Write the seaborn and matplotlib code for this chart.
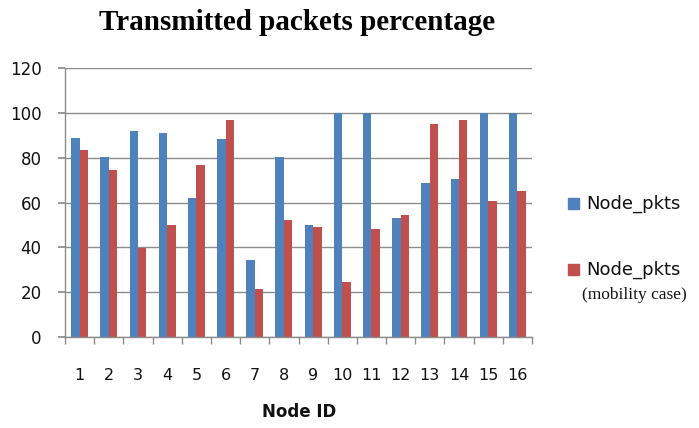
import numpy as np
import pandas as pd
import matplotlib
matplotlib.use("Agg")
import matplotlib.pyplot as plt
import seaborn as sns

node_ids = [str(i) for i in range(1, 17)]
node_pkts = [88.7, 80.1, 92.1, 90.8, 62.1, 88.4, 34.4, 80.1,
             49.9, 100, 100, 53.1, 68.6, 70.4, 100, 100]
node_pkts_mobility = [83.2, 74.7, 39.7, 49.9, 76.9, 96.9, 21.3, 52.1,
                      49.0, 24.4, 48.4, 54.6, 94.9, 96.9, 60.6, 65.3]
series_names = ["Node_pkts", "Node_pkts mobility"]

df = pd.DataFrame({
    "node": node_ids * 2,
    "value": node_pkts + node_pkts_mobility,
    "series": [series_names[0]] * 16 + [series_names[1]] * 16,
})

sns.set_theme(style="white")
plt.rcParams["font.family"] = ["DejaVu Sans"]

fig = plt.figure(figsize=(6.99, 4.28), dpi=100)
ax = fig.add_axes([65 / 699, 1 - 337 / 428, (532 - 65) / 699, (337 - 68) / 428])

sns.barplot(data=df, x="node", y="value", hue="series", order=node_ids,
            palette=["#4F81BD", "#C0504D"], width=0.58, saturation=1,
            linewidth=0, gap=0, ax=ax, legend=False)

ax.set_ylim(0, 120)
ax.set_xlim(-0.5, 15.5)
ax.set_yticks(range(0, 121, 20))
ax.yaxis.grid(True, color="#8c8c8c", linewidth=1)
ax.set_axisbelow(True)
for s in ["top", "right"]:
    ax.spines[s].set_visible(False)
for s in ["left", "bottom"]:
    ax.spines[s].set_color("#8c8c8c")
    ax.spines[s].set_linewidth(1)

ax.set_xticks(range(16))
ax.set_xticklabels(node_ids)
ax.set_xticks(np.arange(-0.5, 16, 1), minor=True)
ax.tick_params(axis="x", which="major", length=0, pad=22, labelsize=11.5, colors="#111111")
ax.tick_params(axis="x", which="minor", length=5, direction="out", color="#8c8c8c", bottom=True)
ax.tick_params(axis="y", length=5, direction="out", color="#8c8c8c", left=True,
               pad=12, labelsize=12, labelcolor="#111111")
ax.set_xlabel("")
ax.set_ylabel("")

fig.text(0.425, 1 - 22 / 428, "Transmitted packets percentage", ha="center", va="center",
         fontsize=21, fontweight="bold", color="black",
         family=["Liberation Serif", "DejaVu Serif"])
fig.text(0.428, 1 - 412 / 428, "Node ID", ha="center", va="center",
         fontsize=12, fontweight="bold", color="#111111")

# legend
fig.patches.append(plt.Rectangle((568 / 699, 1 - 209 / 428), 11 / 699, 11 / 428,
                                 transform=fig.transFigure, color="#4F81BD"))
fig.text(586 / 699, 1 - 204 / 428, "Node_pkts", va="center", fontsize=13, color="#111111")
fig.patches.append(plt.Rectangle((568 / 699, 1 - 275 / 428), 11 / 699, 11 / 428,
                                 transform=fig.transFigure, color="#C0504D"))
fig.text(586 / 699, 1 - 270 / 428, "Node_pkts", va="center", fontsize=13, color="#111111")
fig.text(582 / 699, 1 - 295 / 428, "(mobility case)", va="center", fontsize=12.5,
         color="#111111", family=["Liberation Serif", "DejaVu Serif"])

fig.savefig("out.png", dpi=100)
